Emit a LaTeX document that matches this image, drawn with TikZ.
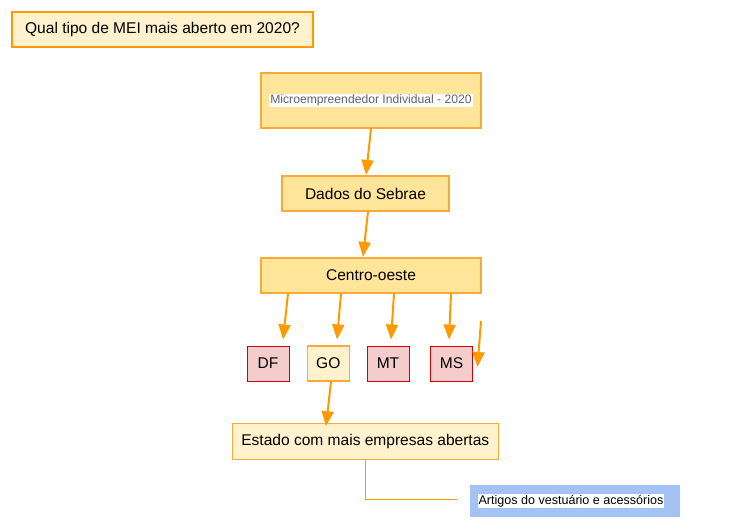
\documentclass[tikz,border=0pt]{standalone}
\usepackage{fontspec}
\setmainfont{Liberation Sans}
\usetikzlibrary{arrows.meta}
\definecolor{orangeA}{HTML}{FF9900}
\definecolor{orangeB}{HTML}{F8A93A}
\definecolor{yellowA}{HTML}{FFE599}
\definecolor{yellowB}{HTML}{FFF2CC}
\definecolor{redfill}{HTML}{F4CCCC}
\definecolor{redline}{HTML}{CC0000}
\definecolor{bluefill}{HTML}{A4C2F4}
\definecolor{graytext}{HTML}{5F6368}
\begin{document}
\begin{tikzpicture}[x=1bp,y=-1bp,
  box/.style={rectangle,inner sep=0pt,font=\fontsize{15.6}{17}\selectfont,line width=1.1bp},
  ybox/.style={box,draw=orangeB,fill=yellowA},
  lbox/.style={box,draw=orangeB,fill=yellowB},
  rbox/.style={box,draw=redline,fill=redfill,line width=0.9bp,minimum width=42bp,minimum height=35bp},
  arr/.style={draw=orangeA,line width=2bp,-{Triangle[width=12bp,length=15bp]}},
  connline/.style={draw=orangeA,line width=1.3bp}]
\useasboundingbox (0,0) rectangle (746,529);
\fill[white] (0,0) rectangle (746,529);

\node[box,draw=orangeA,fill=yellowB,line width=2.2bp,minimum width=301bp,minimum height=35bp] (title) at (162.5,29.5) {Qual tipo de MEI mais aberto em 2020?};

\node[ybox,minimum width=220bp,minimum height=55bp] (micro) at (371,100.5)
  {\fontsize{12.2}{13}\selectfont\setlength{\fboxsep}{1pt}\colorbox{white}{\textcolor{graytext}{Microempreendedor Individual - 2020}}};

\node[ybox,minimum width=167bp,minimum height=35bp] (dados) at (365.5,193.5) {Dados do Sebrae};

\node[ybox,minimum width=220bp,minimum height=35bp] (centro) at (371,275.5) {Centro-oeste};

\node[rbox] (df) at (268,363.5) {DF};
\node[lbox,minimum width=42bp,minimum height=35bp] (go) at (328.3,363.5) {GO};
\node[rbox] (mt) at (388,363.5) {MT};
\node[rbox] (ms) at (451.5,363.5) {MS};

\node[lbox,minimum width=266bp,minimum height=36bp] (estado) at (365.3,441.2) {Estado com mais empresas abertas};

\node[box,fill=bluefill,minimum width=210bp,minimum height=32bp] (artigos) at (575,500.8)
  {\fontsize{12.6}{13}\selectfont\setlength{\fboxsep}{1pt}\colorbox{white}{Artigos do vestuário e acessórios}\hspace*{8bp}};

\coordinate (free) at (481,321);

\draw[arr] (micro.south) -- ([xshift=0.5bp,yshift=0.5bp]dados.north);
\draw[arr] ([xshift=2.5bp]dados.south) -- ([xshift=-8bp,yshift=0.5bp]centro.north);
\draw[arr] ([xshift=-83bp]centro.south) -- ([xshift=15bp,yshift=6bp]df.north);
\draw[arr] ([xshift=-30bp]centro.south) -- ([xshift=8.7bp,yshift=6bp]go.north);
\draw[arr] ([xshift=23bp]centro.south) -- ([xshift=3bp,yshift=6bp]mt.north);
\draw[arr] ([xshift=80bp]centro.south) -- ([xshift=-2.5bp,yshift=6bp]ms.north);
\draw[arr] (free) -- ([xshift=4.5bp,yshift=-3.5bp]ms.east);
\draw[arr] ([xshift=2.7bp]go.south) -- ([xshift=-39.3bp,yshift=-3.5bp]estado.north);
\draw[connline] ([xshift=0.2bp]estado.south) |- ([xshift=-12.3bp,yshift=1.3bp]artigos.west);
\end{tikzpicture}
\end{document}
